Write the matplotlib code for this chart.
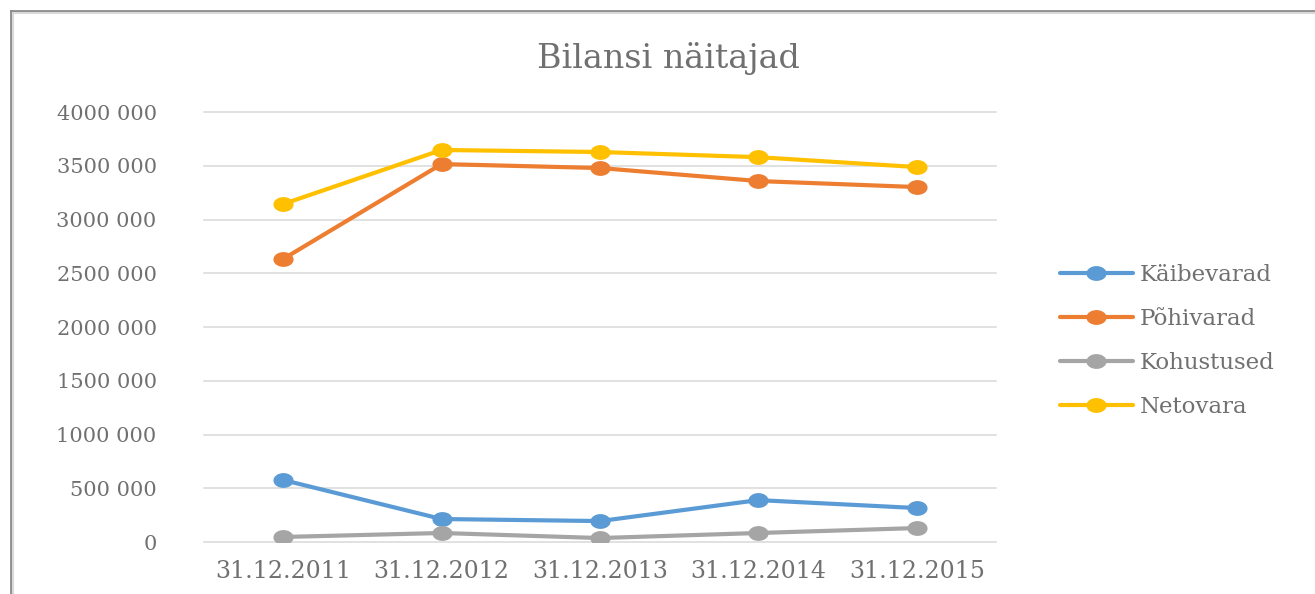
import numpy as np
import matplotlib
matplotlib.use('Agg')
import matplotlib.pyplot as plt
from matplotlib.path import Path
from matplotlib.lines import Line2D
from matplotlib.ticker import FuncFormatter, MultipleLocator

# andmed (loetud pildilt)
dates = ['31.12.2011', '31.12.2012', '31.12.2013', '31.12.2014', '31.12.2015']
kaibevarad = [577000, 214000, 195000, 390000, 316000]
pohivarad = [2633000, 3516000, 3479000, 3358000, 3302000]
kohustused = [47000, 84000, 37000, 84000, 130000]
netovara = [3144000, 3647000, 3628000, 3580000, 3488000]

series = [
    ('Käibevarad', kaibevarad, '#5B9BD5'),
    ('Põhivarad', pohivarad, '#ED7D31'),
    ('Kohustused', kohustused, '#A5A5A5'),
    ('Netovara', netovara, '#FFC000'),
]

text_color = '#707070'
plt.rcParams['font.family'] = ['DejaVu Serif']

# veidi lai ellips markeriks (originaal on horisontaalselt venitatud)
t = np.linspace(0, 2 * np.pi, 60)
ellipse = Path(np.column_stack([1.4 * np.cos(t), np.sin(t)]), closed=True)

fig = plt.figure(figsize=(13.15, 5.94), dpi=100)
ax = fig.add_axes([0.1551, 0.0875, 0.6023, 0.7239])

x = np.arange(len(dates))
for name, vals, col in series:
    ax.plot(x, vals, color=col, lw=3, marker=ellipse, markersize=13.5,
            label=name, solid_capstyle='round')

ax.set_xlim(-0.5, len(dates) - 0.5)
ax.set_ylim(0, 4000000)
ax.yaxis.set_major_locator(MultipleLocator(500000))
ax.yaxis.set_major_formatter(FuncFormatter(
    lambda v, p: '0' if v == 0 else f'{int(v) // 1000} {int(v) % 1000:03d}'))
ax.set_xticks(x)
ax.set_xticklabels(dates)
ax.grid(axis='y', color='#D9D9D9', lw=1.1)
for gl in ax.get_ygridlines():
    gl.set_clip_on(False)
ax.set_axisbelow(True)
for s in ax.spines.values():
    s.set_visible(False)
ax.tick_params(axis='y', length=0, pad=34, labelsize=15, labelcolor=text_color)
ax.tick_params(axis='x', length=0, pad=13, labelsize=17, labelcolor=text_color)

fig.text(0.508, 0.902, 'Bilansi näitajad', ha='center', va='center',
         fontsize=24, color=text_color)

fig.legend(loc='center left', bbox_to_anchor=(0.797, 0.426), frameon=False,
           fontsize=16.5, handlelength=3.2, handletextpad=0.3, labelspacing=0.95,
           borderpad=0, labelcolor=text_color, markerscale=1.0)

# raam (ainult ülemine ja vasak serv on näha)
bx, by = 11 / 1315, 1 - 11 / 594
fig.add_artist(Line2D([bx, bx], [0, by], transform=fig.transFigure,
                      color='#8C8C8C', lw=2))
fig.add_artist(Line2D([bx, 1], [by, by], transform=fig.transFigure,
                      color='#8C8C8C', lw=2))
fig.add_artist(Line2D([bx + 2 / 1315, bx + 2 / 1315], [0, by - 2 / 594],
                      transform=fig.transFigure, color='#D9D9D9', lw=1.5))
fig.add_artist(Line2D([bx + 2 / 1315, 1], [by - 2 / 594, by - 2 / 594],
                      transform=fig.transFigure, color='#D9D9D9', lw=1.5))

fig.savefig('out.png', dpi=100)
